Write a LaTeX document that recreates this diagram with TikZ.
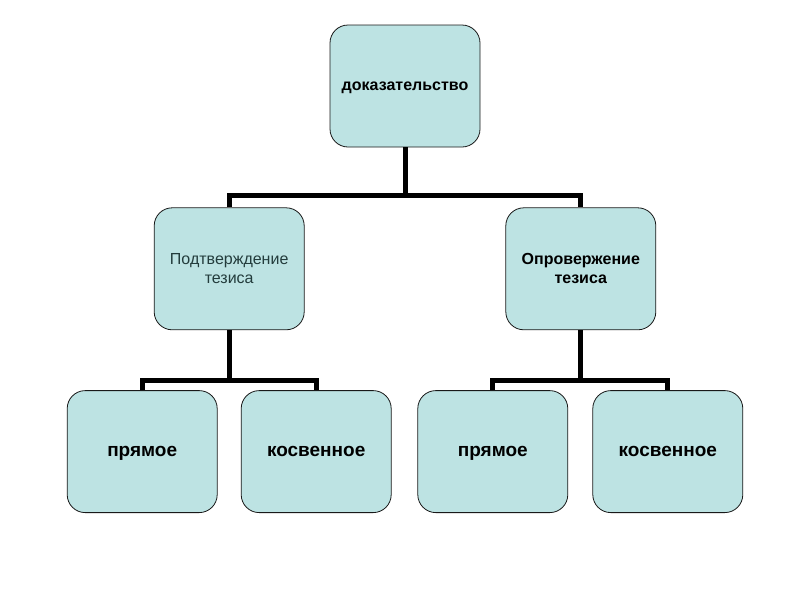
\documentclass[tikz,border=0pt]{standalone}
\usepackage{fontspec}
\setmainfont{Liberation Sans}
\usetikzlibrary{positioning}
\definecolor{boxfill}{RGB}{189,227,227}
\definecolor{boxtext}{RGB}{35,60,60}
\begin{document}
\begin{tikzpicture}[
        block/.style={rectangle, rounded corners=18pt, draw=black!90, line width=0.8pt, fill=boxfill, minimum width=150pt, minimum height=122pt, align=center, inner sep=2pt},
        plain/.style={font=\fontsize{16}{19}\selectfont, text=boxtext},
        bold/.style={font=\fontsize{16}{19}\selectfont\bfseries},
        bigbold/.style={font=\fontsize{19}{23}\selectfont\bfseries, text height=14pt, text depth=4pt},
        line/.style={-, line width=5pt}
    ]
        \useasboundingbox (0,0) rectangle (800pt,-600pt);
        % Top level
        \node[block, bold, text height=12pt, text depth=4pt] at (405pt,-86pt) (proof) {доказательство};
        % Second level
        \node[block, plain, below left=60pt and 25pt of proof] (confirm) {Подтверждение\\тезиса};
        \node[block, bold, below right=60pt and 25pt of proof] (refute) {Опровержение\\тезиса};
        % Third level
        \node[block, bigbold, below=60pt of confirm, xshift=-87pt] (cdirect) {прямое};
        \node[block, bigbold, below=60pt of confirm, xshift=87pt] (cindirect) {косвенное};
        \node[block, bigbold, below=60pt of refute, xshift=-88pt] (rdirect) {прямое};
        \node[block, bigbold, below=60pt of refute, xshift=87pt] (rindirect) {косвенное};
        % Connectors
        \draw[line] (proof.south) -- ++(0,-48pt) coordinate (hub1);
        \draw[line] (confirm.north) |- (hub1) -| (refute.north);
        \draw[line] (confirm.south) -- ++(0,-50pt) coordinate (hub2);
        \draw[line] (cdirect.north) |- (hub2) -| (cindirect.north);
        \draw[line] (refute.south) -- ++(0,-50pt) coordinate (hub3);
        \draw[line] (rdirect.north) |- (hub3) -| (rindirect.north);
    \end{tikzpicture}
\end{document}
